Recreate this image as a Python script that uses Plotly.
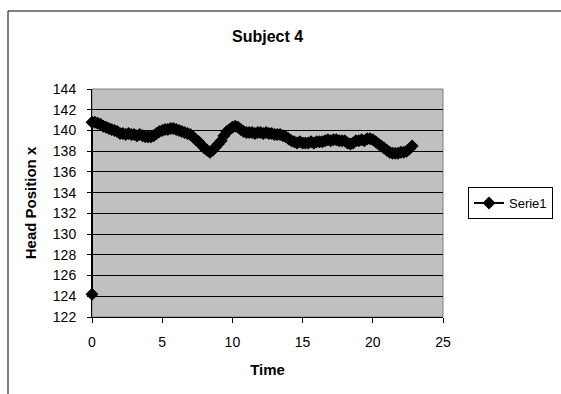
import plotly.graph_objects as go

# Head position samples (x coordinate) for subject 4, sampled every 0.2 s
first_time = 0.0
first_value = 124.2
sample_step = 0.2
head_x = [
    140.8, 140.8, 140.7, 140.6, 140.4, 140.3, 140.2, 140.1, 140.0, 139.9,
    139.7, 139.7, 139.6, 139.7, 139.6, 139.6, 139.5, 139.6, 139.5, 139.4,
    139.4, 139.4, 139.5, 139.7, 139.9, 140.0, 140.1, 140.1, 140.2, 140.2,
    140.1, 140.0, 139.9, 139.8, 139.7, 139.6, 139.4, 139.1, 138.9, 138.6,
    138.3, 138.1, 137.9, 138.1, 138.4, 138.7, 139.0, 139.5, 139.9, 140.1,
    140.3, 140.4, 140.3, 140.1, 139.9, 139.8, 139.8, 139.8, 139.7, 139.8,
    139.8, 139.7, 139.8, 139.7, 139.7, 139.6, 139.6, 139.6, 139.5, 139.4,
    139.2, 139.0, 138.9, 138.8, 138.9, 138.8, 138.8, 138.8, 138.9, 138.8,
    138.9, 138.9, 138.9, 139.0, 139.1, 139.0, 139.1, 139.1, 139.0, 139.0,
    139.0, 138.8, 138.7, 138.8, 139.0, 139.0, 139.1, 139.0, 139.2, 139.2,
    139.1, 138.9, 138.7, 138.5, 138.3, 138.1, 137.9, 137.8, 137.8, 137.8,
    137.9, 137.9, 138.0, 138.2, 138.5,
]
time_s = [first_time] + [round(i * sample_step, 1) for i in range(len(head_x))]
values = [first_value] + head_x

x_ticks = [0, 5, 10, 15, 20, 25]
y_ticks = list(range(122, 145, 2))

W, H = 561, 394
L, R, T, B = 92, 443, 89, 317  # plot area in pixels

font = "Arial, Liberation Sans, sans-serif"

fig = go.Figure()
fig.add_trace(go.Scatter(
    x=time_s, y=values, name="Serie1",
    mode="lines+markers",
    line=dict(color="black", width=2),
    marker=dict(symbol="diamond", size=10, color="black"),
    cliponaxis=False,
))

def px_to_paper_x(px):
    return (px - L) / (R - L)

def px_to_paper_y(py):
    return (B - py) / (B - T)

frame_left = px_to_paper_x(8)
frame_top = px_to_paper_y(11)
frame_right = px_to_paper_x(W + 5)
frame_bottom = px_to_paper_y(H + 5)

fig.update_layout(
    width=W, height=H,
    margin=dict(l=L, r=W - R, t=T, b=H - B, autoexpand=False),
    paper_bgcolor="white",
    plot_bgcolor="#C0C0C0",
    font=dict(family=font, size=14, color="black"),
    showlegend=True,
    legend=dict(
        x=px_to_paper_x(468), xanchor="left",
        y=0.5, yanchor="middle",
        bordercolor="black", borderwidth=1, bgcolor="white",
        font=dict(size=13), itemwidth=30,
    ),
    shapes=[
        # outer chart frame (left and top edges visible)
        dict(type="line", xref="paper", yref="paper",
             x0=frame_left, x1=frame_left, y0=frame_bottom, y1=frame_top,
             line=dict(color="black", width=1), layer="below"),
        dict(type="line", xref="paper", yref="paper",
             x0=frame_left, x1=frame_right, y0=frame_top, y1=frame_top,
             line=dict(color="black", width=1), layer="below"),
        # plot area border
        dict(type="rect", xref="paper", yref="paper",
             x0=0, x1=1, y0=0, y1=1,
             line=dict(color="#808080", width=1), layer="below"),
    ],
    annotations=[
        dict(text="<b>Subject 4</b>", xref="paper", yref="paper",
             x=0.5, y=px_to_paper_y(37), xanchor="center", yanchor="middle",
             showarrow=False, font=dict(size=16)),
    ],
)

fig.update_xaxes(
    range=[0, 25], tickvals=x_ticks,
    showgrid=False, zeroline=False,
    showline=True, linecolor="black", linewidth=1,
    ticks="outside", ticklen=5, tickcolor="black",
    ticklabelstandoff=7,
    title=dict(text="<b>Time</b>", font=dict(size=15), standoff=15),
)
fig.update_yaxes(
    range=[122, 144], tickvals=y_ticks,
    showgrid=True, gridcolor="black", gridwidth=1,
    zeroline=False,
    showline=True, linecolor="black", linewidth=1,
    ticks="outside", ticklen=4, tickcolor="black",
    ticklabelstandoff=8,
    title=dict(text="<b>Head Position x</b>", font=dict(size=15), standoff=12),
)

fig.write_html("out.html")
